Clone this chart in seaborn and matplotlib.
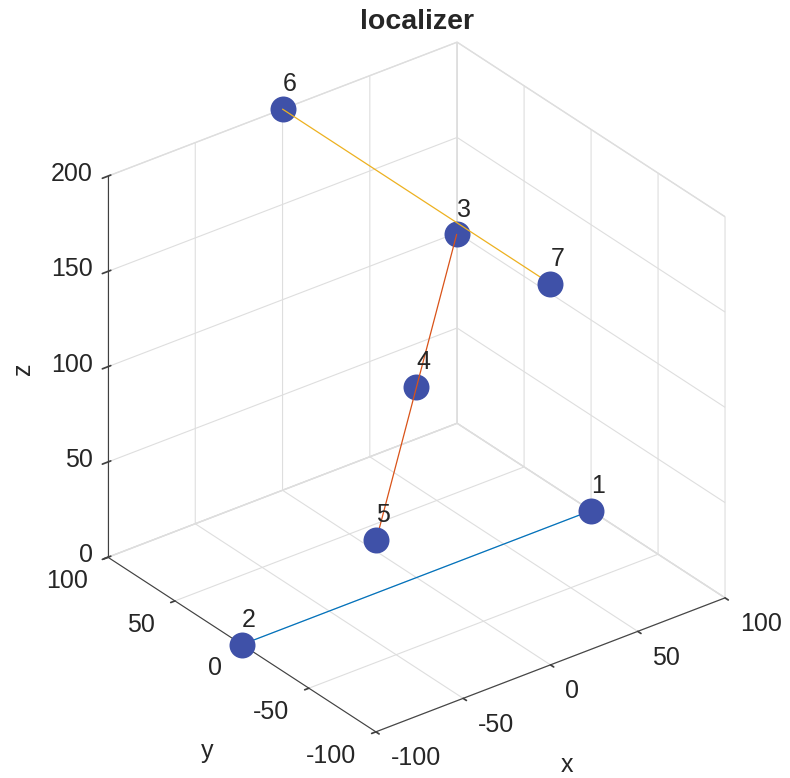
import matplotlib
matplotlib.use("Agg")
import matplotlib.pyplot as plt
import numpy as np
import seaborn as sns

# ---- data -------------------------------------------------------------
point_ids = [1, 2, 3, 4, 5, 6, 7]
xs = [100, -100, 23, 0, -23, 0, 0]
ys = [0, 0, 0, 0, 0, 100, -100]
zs = [0, 0, 172, 100, 28, 200, 200]

# polylines joining the points (by id)
segments = [[1, 2], [3, 4, 5], [6, 7]]

xy_ticks = [-100, -50, 0, 50, 100]
z_ticks = [0, 50, 100, 150, 200]

# ---- style ------------------------------------------------------------
sns.set_theme(style="ticks")
plt.rcParams["font.family"] = ["Liberation Sans", "DejaVu Sans"]
plt.rcParams["axes.unicode_minus"] = False
text_grey = "#262626"
grid_grey = "#dedede"
plt.rcParams.update({
    "grid.color": grid_grey,
    "grid.linewidth": 0.8,
    "xtick.color": "#404040",
    "ytick.color": "#404040",
})
line_colors = sns.color_palette(["#0072BD", "#D95319", "#EDB120"])
marker_color = "#3F51A8"
fs = 18

fig = plt.figure(figsize=(7.9, 7.78), dpi=100)
side = 740
ax = fig.add_axes([36.5 / 790, 11 / 778, side / 790, side / 778],
                  projection="3d", computed_zorder=False)
ax.set_proj_type("ortho")
ax.view_init(elev=30, azim=-127.5)
ax.set_box_aspect((1, 1, 1))

xlo, xhi = -100, 100
ylo, yhi = -100, 100
zlo, zhi = 0, 200
ax.set_xlim(xlo, xhi)
ax.set_ylim(ylo, yhi)
ax.set_zlim(zlo, zhi)
ax.set_xticks(xy_ticks)
ax.set_yticks(xy_ticks)
ax.set_zticks(z_ticks)
ax.grid(True)

for axis in (ax.xaxis, ax.yaxis, ax.zaxis):
    axis.set_tick_params(labelbottom=False, labelleft=False)
    axis.set_pane_color((1, 1, 1, 1))
    axis.pane.set_edgecolor(grid_grey)
    axis.line.set_color("#404040")
    axis.line.set_linewidth(0.8)
for axis in (ax.xaxis, ax.yaxis):
    axis._axinfo["tick"]["inward_factor"] = 0.15
    axis._axinfo["tick"]["outward_factor"] = 0.0

# tick labels, offset away from the box the way MATLAB lays them out
for v in xy_ticks:
    ax.text(v, ylo - 11, zlo - 2.6, str(v), ha="left", va="top",
            fontsize=fs, color=text_grey)
    ax.text(xlo - 11.5, v, zlo - 8.5, str(v), ha="right", va="center",
            fontsize=fs, color=text_grey)
for v in z_ticks:
    ax.text(xlo - 4.3, yhi + 5.6, v, str(v), ha="right", va="center",
            fontsize=fs, color=text_grey)

# axis labels
ax.text((xlo + xhi) / 2, ylo - 12, zlo - 47, "x", ha="center", va="center",
        fontsize=fs, color=text_grey)
ax.text(xlo - 20, (ylo + yhi) / 2, zlo - 49, "y", ha="center", va="center",
        fontsize=fs, color=text_grey)
ax.text(xlo - 32, yhi + 22, (zlo + zhi) / 2, "z", zdir="z",
        ha="center", va="center", fontsize=fs, color=text_grey)

# ---- marks ------------------------------------------------------------
idx = {pid: i for i, pid in enumerate(point_ids)}
for seg, col in zip(segments, line_colors):
    ii = [idx[p] for p in seg]
    ax.plot([xs[i] for i in ii], [ys[i] for i in ii], [zs[i] for i in ii],
            color=col, lw=0.9, zorder=2)

on_top = [1, 2, 5, 7]
for group, zo in ((on_top, 3), ([p for p in point_ids if p not in on_top], 1)):
    ii = [idx[p] for p in group]
    ax.scatter([xs[i] for i in ii], [ys[i] for i in ii], [zs[i] for i in ii],
               s=350, color=marker_color, depthshade=False, linewidths=0,
               zorder=zo)

for pid, x, y, z in zip(point_ids, xs, ys, zs):
    ax.text(x, y, z + 13, str(pid), ha="left", va="center",
            fontsize=fs, color=text_grey, zorder=5)

fig.text(417 / 790, 1 - 22 / 778, "localizer", ha="center", va="center",
         fontsize=20.5, fontweight="bold", color=text_grey)

fig.savefig("out.png", dpi=100)
